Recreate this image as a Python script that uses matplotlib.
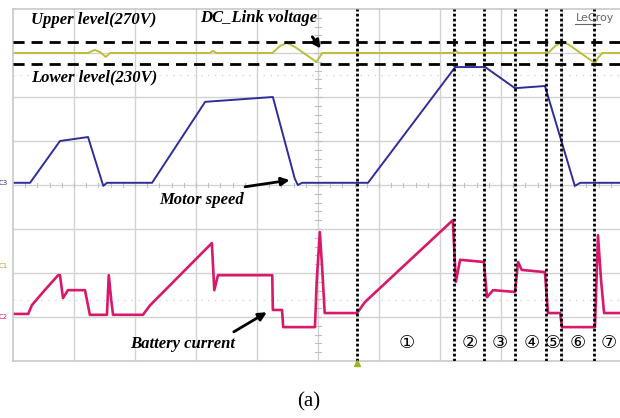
import matplotlib.pyplot as plt
import numpy as np

# scope screen: time / amplitude in divisions (10 x 8)
dc_t = [0, 1.23, 1.34, 1.43, 1.52, 1.59, 3.23, 3.28, 3.33, 4.25, 4.38, 4.49, 4.62, 4.97, 5.02, 5.07,
        7.21, 7.25, 7.30, 8.77, 8.89, 9.0, 9.10, 9.54, 9.59, 9.66, 10.0]
dc_v = [7.0, 7.0, 7.07, 7.02, 6.91, 7.0, 7.0, 7.05, 7.0, 7.0, 7.16, 7.23, 7.14, 6.80, 6.89, 7.0,
        7.0, 7.06, 7.0, 7.0, 7.16, 7.25, 7.20, 6.77, 6.89, 7.0, 7.0]

spd_t = [0, 0.28, 0.77, 1.23, 1.48, 1.54, 2.28, 3.15, 4.26, 4.62, 4.67, 4.74, 5.82, 7.25, 7.74,
         8.23, 8.72, 9.21, 9.30, 10.0]
spd_v = [4.05, 4.05, 5.0, 5.09, 3.98, 4.05, 4.05, 5.89, 6.0, 4.14, 4.0, 4.05, 4.05, 6.68, 6.68,
         6.20, 6.25, 3.98, 4.05, 4.05]

bat_t = [0, 0.25, 0.31, 0.52, 0.74, 0.77, 0.82, 0.90, 1.18, 1.26, 1.54, 1.57, 1.61, 1.64, 2.13,
         2.25, 3.26, 3.30, 3.36, 4.25, 4.26, 4.41, 4.43, 4.95, 4.98, 5.03, 5.07, 5.11, 5.64, 5.77,
         7.21, 7.26, 7.33, 7.72, 7.77, 7.87, 8.23, 8.28, 8.34, 8.72, 8.77, 8.97, 9.0, 9.54, 9.59,
         9.64, 9.69, 10.0]
bat_v = [1.07, 1.07, 1.27, 1.61, 1.95, 1.95, 1.43, 1.61, 1.61, 1.05, 1.05, 1.95, 1.39, 1.05, 1.05,
         1.27, 2.68, 1.61, 1.95, 1.95, 1.16, 1.16, 0.77, 0.77, 1.84, 2.93, 2.07, 1.09, 1.09, 1.34,
         3.20, 1.80, 2.30, 2.25, 1.45, 1.61, 1.57, 2.25, 2.07, 2.02, 1.09, 1.09, 0.77, 0.77, 2.86,
         1.84, 1.09, 1.09]

upper_level = 7.25
lower_level = 6.75
trigger_t = 5.64
markers = [5.64, 7.23, 7.72, 8.23, 8.74, 8.98, 9.52]
mode_x = [6.46, 7.49, 7.98, 8.51, 8.85, 9.26, 9.77]
mode_labels = ['①', '②', '③', '④', '⑤', '⑥', '⑦']

fig = plt.figure(figsize=(6.2, 4.18), dpi=100)
ax = fig.add_axes([13 / 620, 57 / 418, 610 / 620, 352 / 418])
ax.set_xlim(0, 10)
ax.set_ylim(0, 8)
ax.set_xticks([])
ax.set_yticks([])
for s in ax.spines.values():
    s.set_color('#c8c8c8')
    s.set_linewidth(1.2)

# grid
for i in range(1, 10):
    ax.axvline(i, color='#d2d2d2', lw=1.0, zorder=0)
for j in range(1, 8):
    ax.axhline(j, color='#d2d2d2', lw=1.0, zorder=0)
# center tick marks
for k in np.arange(0.2, 10, 0.2):
    ax.plot([k, k], [3.95, 4.05], color='#c0c0c0', lw=0.8, zorder=0)
for k in np.arange(0.2, 8, 0.2):
    ax.plot([4.95, 5.05], [k, k], color='#c0c0c0', lw=0.8, zorder=0)
# faint reference dotted lines
ax.axhline(6.5, color='#d8d8d8', lw=1.0, ls=(0, (1, 4)), zorder=0)
ax.axhline(1.39, color='#d8d8d8', lw=1.0, ls=(0, (1, 4)), zorder=0)

ax.plot(dc_t, dc_v, color='#bdbd3c', lw=1.4, zorder=2)
ax.plot(spd_t, spd_v, color='#2e2e9a', lw=1.4, zorder=2)
ax.plot(bat_t, bat_v, color='#d8196a', lw=1.9, zorder=2)

# level lines
ax.axhline(upper_level, color='black', lw=2.0, ls=(0, (4, 2.5)), zorder=3)
ax.axhline(lower_level, color='black', lw=2.0, ls=(0, (4, 2.5)), zorder=3)

for m in markers:
    ax.axvline(m, color='black', lw=2.0, ls=(0, (1, 0.8)), zorder=3)

for x, lab in zip(mode_x, mode_labels):
    ax.text(x, 0.41, lab, ha='center', va='center', fontsize=13,
            family=['DejaVu Sans'])

# channel labels
ax.text(-0.08, 4.05, 'C3', color='#2e2e9a', fontsize=5, ha='right', va='center', clip_on=False)
ax.text(-0.08, 2.15, 'C1', color='#a8a830', fontsize=5, ha='right', va='center', clip_on=False)
ax.text(-0.08, 1.0, 'C2', color='#d8196a', fontsize=5, ha='right', va='center', clip_on=False)
ax.text(9.22, 7.80, 'LeCroy', color='#666666', fontsize=8, ha='left', va='center')
ax.plot([9.22, 9.62], [7.66, 7.66], color='#666666', lw=0.8)
ax.plot([trigger_t], [-0.05], marker='^', color='#9ab52a', ms=5, clip_on=False, zorder=4)

tf = dict(family='Liberation Serif', style='italic', weight='bold', fontsize=12)
ax.text(0.29, 7.66, 'Upper level(270V)', **tf)
ax.text(3.07, 7.70, 'DC_Link voltage', **tf)
ax.text(0.29, 6.36, 'Lower level(230V)', **tf)
ax.text(2.40, 3.56, 'Motor speed', **tf)
ax.text(1.92, 0.30, 'Battery current', **tf)

arr = dict(arrowstyle='-|>', color='black', lw=2, mutation_scale=12)
ax.annotate('', xy=(5.07, 7.05), xytext=(4.88, 7.42), arrowprops=arr)
ax.annotate('', xy=(4.58, 4.12), xytext=(3.76, 3.95), arrowprops=arr)
ax.annotate('', xy=(4.2, 1.14), xytext=(3.58, 0.63), arrowprops=arr)

fig.text(309 / 620, 1 - 402 / 418, '(a)', family='Liberation Serif', fontsize=15,
         ha='center', va='center')

fig.savefig('out.png', dpi=100)
